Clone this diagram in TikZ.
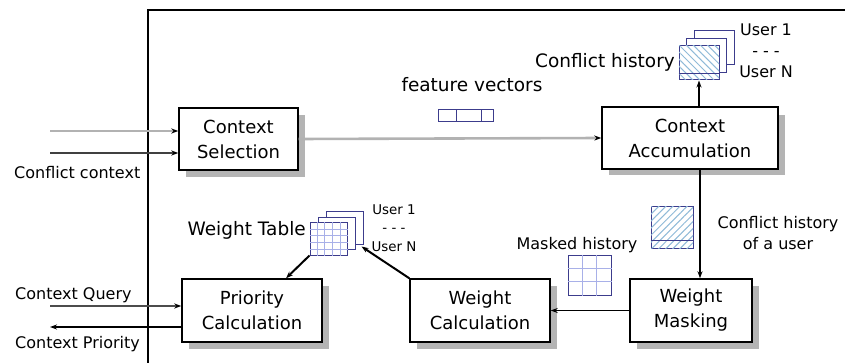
\documentclass[tikz,border=0pt]{standalone}
\usepackage{fontspec}
\setmainfont{DejaVu Sans}
\usetikzlibrary{arrows.meta, patterns.meta, calc}
\definecolor{cardblue}{HTML}{3C3C8C}
\definecolor{gridblue}{HTML}{A8B0E8}
\definecolor{hatchblue}{HTML}{8FBAD8}
\definecolor{shadowgray}{HTML}{B4B4B4}

\tikzset{
  block/.style={draw, line width=1.4pt, fill=white, align=center, minimum height=62pt,
    font=\fontsize{18}{25}\selectfont},
  card/.style={draw=cardblue, line width=1pt, fill=white, inner sep=0pt},
  flow/.style={-{Stealth[length=7pt,width=5pt,color=black]}, line width=1.3pt},
  lbl/.style={font=\fontsize{16}{21}\selectfont},
  biglbl/.style={font=\fontsize{18.5}{22}\selectfont},
  tinylbl/.style={font=\fontsize{13.4}{18.5}\selectfont},
}

\begin{document}
\begin{tikzpicture}[x=1pt, y=-1pt]
    \useasboundingbox (0,0) rectangle (845,363);
    % Frame
    \draw[line width=1.5pt] (148,363) -- (148,10) -- (845,10);

    % Block shadows
    \fill[shadowgray] (186,115) rectangle (305,177);
    \fill[shadowgray] (609,115) rectangle (785,175);
    \fill[shadowgray] (637,286) rectangle (759,349);
    \fill[shadowgray] (417,286) rectangle (557,349);
    \fill[shadowgray] (189,286) rectangle (329,349);

    % Blocks
    \node[block, minimum width=119pt] (sel) at (238.5,139) {Context\\Selection};
    \node[block, minimum width=176pt] (acc) at (690,138) {Context\\Accumulation};
    \node[block, minimum width=122pt, minimum height=63pt] (mask) at (691,310.5) {Weight\\Masking};
    \node[block, minimum width=140pt, minimum height=63pt] (wcalc) at (480,310.5) {Weight\\Calculation};
    \node[block, minimum width=140pt, minimum height=63pt] (prio) at (252,310.5) {Priority\\Calculation};

    % Feature vector
    \node[card, minimum width=55pt, minimum height=12pt] (fvec) at (465.5,116) {};
    \draw[cardblue, line width=1pt] ($(fvec.north west)+(19,0)$) -- ($(fvec.south west)+(19,0)$)
        ($(fvec.north west)+(44,0)$) -- ($(fvec.south west)+(44,0)$);
    \node[biglbl] (fvlbl) at (472,85) {feature vectors};

    % Conflict history of all users
    \foreach \d in {15,7.5} {
        \node[card, minimum width=40pt, minimum height=34pt] at (699+\d,63-\d) {};
    }
    \node[card, minimum width=40pt, minimum height=34pt,
        postaction={pattern={Lines[angle=-45,distance=5pt,line width=1pt]}, pattern color=hatchblue}]
        (hist) at (699,63) {};
    \draw[cardblue, line width=1pt] ($(hist.south west)+(0,-7)$) -- ($(hist.south east)+(0,-7)$);
    \node[biglbl, anchor=east, inner sep=0pt] (histlbl) at (675,62) {Conflict history};
    \node[lbl, align=center] (histusr) at (766,51) {User 1\\- - -\\User N};

    % Conflict history of one user
    \node[card, minimum width=42pt, minimum height=41pt,
        postaction={pattern={Lines[angle=45,distance=5pt,line width=1pt]}, pattern color=hatchblue}]
        (uhist) at (672,227.5) {};
    \draw[cardblue, line width=1pt] ($(uhist.south west)+(0,-8)$) -- ($(uhist.south east)+(0,-8)$);
    \node[lbl, align=center] (uhistlbl) at (778,233) {Conflict history\\of a user};

    % Masked history
    \node[card, minimum width=43pt, minimum height=40pt] (mhist) at (589.5,275) {};
    \foreach \i in {1,2} {
        \draw[gridblue, line width=0.8pt] ($(mhist.north west)!\i/3!(mhist.north east)$) -- ($(mhist.south west)!\i/3!(mhist.south east)$);
        \draw[gridblue, line width=0.8pt] ($(mhist.north west)!\i/3!(mhist.south west)$) -- ($(mhist.north east)!\i/3!(mhist.south east)$);
    }
    \node[lbl] (mhistlbl) at (577,245) {Masked history};

    % Weight table
    \node[card, minimum width=37pt, minimum height=32pt] (wtab3) at (344.5,228) {};
    \node[card, minimum width=37pt, minimum height=32pt] (wtab2) at (336.5,233.5) {};
    \node[card, minimum width=37pt, minimum height=32pt] (wtab) at (328.5,239) {};
    \foreach \i in {1,...,4} {
        \draw[gridblue, line width=0.7pt] ($(wtab.north west)!\i/5!(wtab.north east)$) -- ($(wtab.south west)!\i/5!(wtab.south east)$);
        \draw[gridblue, line width=0.7pt] ($(wtab.north west)!\i/5!(wtab.south west)$) -- ($(wtab.north east)!\i/5!(wtab.south east)$);
    }
    \node[biglbl, anchor=east, inner sep=0pt] (wtablbl) at (306,230) {Weight Table};
    \node[tinylbl, align=center] (wtabusr) at (394,228) {User 1\\- - -\\User N};

    % Inputs and outputs
    \coordinate (in1) at (50,131);
    \coordinate (in2) at (50,153);
    \coordinate (query) at (50,306);
    \coordinate (pout) at (50,327);
    \node[lbl, anchor=west, inner sep=0pt] (ctxlbl) at (14,173) {Conflict context};
    \node[lbl, anchor=west, inner sep=0pt] (qlbl) at (15,295) {Context Query};
    \node[lbl, anchor=west, inner sep=0pt] (plbl) at (15,344) {Context Priority};

    % Connectors
    \draw[flow, gray!60, line width=2pt] (in1) -- (in1 -| sel.west);
    \draw[flow, black!75, line width=1.6pt] (in2) -- (in2 -| sel.west);
    \draw[flow, gray!60, line width=2.6pt] (sel.east) -- (acc.west);
    \draw[flow, line width=1.1pt] (hist.south |- acc.north) -- (hist.south);
    \draw[flow] ([xshift=10pt]acc.south) -- ([xshift=9pt]mask.north);
    \draw[flow, line width=1.1pt] (mask.west) -- (wcalc.east);
    \draw[flow, line width=2pt] (wcalc.north west) -- ([shift={(-2,2)}]wtab3.south east);
    \draw[flow, line width=2pt] (wtab.south west) -- ([xshift=34pt]prio.north);
    \draw[flow, black!70, line width=1.5pt] (query) -- (query -| prio.west);
    \draw[flow, line width=1.5pt] (pout -| prio.west) -- (pout);
\end{tikzpicture}
\end{document}
